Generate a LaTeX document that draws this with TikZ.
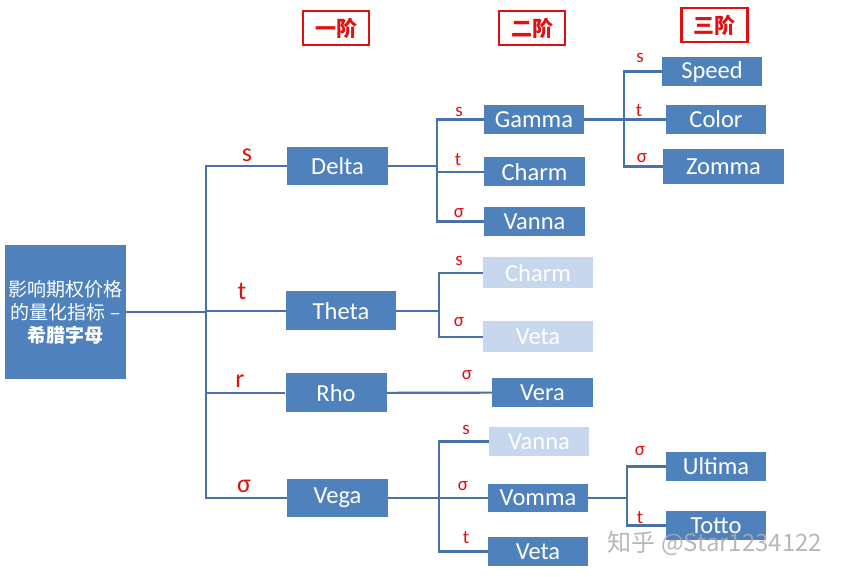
\documentclass[tikz,border=0pt]{standalone}
\usepackage{fontspec}
\setmainfont{Carlito}
\newfontfamily\cjk{Noto Sans CJK SC}
\definecolor{boxblue}{HTML}{4F81BD}
\definecolor{paleblue}{HTML}{C6D7EE}
\definecolor{linkblue}{HTML}{4A70A8}
\definecolor{ordred}{HTML}{E01010}

\begin{document}
\begin{tikzpicture}[x=1pt, y=-1pt,
  greek/.style={fill=boxblue, text=white, inner sep=0pt, font=\fontsize{24.5}{26}\selectfont},
  faded/.style={greek, fill=paleblue},
  order/.style={draw=ordred, line width=2.4pt, text=ordred, inner sep=0pt,
    minimum width=66, minimum height=34, font=\cjk\bfseries\fontsize{21}{23}\selectfont},
  var/.style={text=ordred, anchor=base, inner sep=0pt, font=\fontsize{26}{28}\selectfont},
  subvar/.style={text=ordred, anchor=base, inner sep=0pt, font=\fontsize{19}{21}\selectfont},
  link/.style={draw=linkblue, line width=2.2pt}]
\path[use as bounding box] (0,0) rectangle (852,577);
% order headers
\node[order] (ord1) at (336,28) {一阶};
\node[order] (ord2) at (532,28) {二阶};
\node[order] (ord3) at (714.5,25) {三阶};
% root
\node[greek, minimum width=121, minimum height=134, align=center, font=\cjk\fontsize{19}{23}\selectfont]
  (root) at (65.5,312) {影响期权价格\\的量化指标 –\\\bfseries 希腊字母};
% first order
\node[greek, minimum width=101, minimum height=38] (delta) at (337.5,166) {Delta};
\node[greek, minimum width=110, minimum height=39] (theta) at (341,311) {Theta};
\node[greek, minimum width=101, minimum height=39] (rho) at (336,393) {Rho};
\node[greek, minimum width=101, minimum height=38] (vega) at (337.5,498) {Vega};
\coordinate (j0) at (206,312);
\draw[link] (root) -- (j0);
\draw[link] (j0) |- (delta);
\draw[link] (j0) |- (theta);
\draw[link] (j0) |- (rho);
\draw[link] (j0) |- (vega);
\node[var] (ls) at (247,162) {s};
\node[var] (lt) at (242,300) {t};
\node[var] (lr) at (240,388) {r};
\node[var] (lsig) at (244,492) {σ};
% second order: Delta
\node[greek, minimum width=100, minimum height=29] (gamma) at (534,119.5) {Gamma};
\node[greek, minimum width=101, minimum height=29] (charm) at (534.5,172) {Charm};
\node[greek, minimum width=101, minimum height=29] (vanna) at (534.5,221.5) {Vanna};
\coordinate (j1) at (437,166);
\draw[link] (delta) -- (j1);
\draw[link] (j1) |- (gamma);
\draw[link] (j1) |- (charm);
\draw[link] (j1) |- (vanna);
\node[subvar] (l1s) at (459,117) {s};
\node[subvar] (l1t) at (458,166) {t};
\node[subvar] (l1sig) at (459,218) {σ};
% third order: Gamma
\node[greek, minimum width=100, minimum height=29] (speed) at (712,71.5) {Speed};
\node[greek, minimum width=100, minimum height=29] (color) at (716,119.5) {Color};
\node[greek, minimum width=121, minimum height=35] (zomma) at (723.5,166.5) {Zomma};
\coordinate (j2) at (624,119.5);
\draw[link] (gamma) -- (j2);
\draw[link] (j2) |- (speed);
\draw[link] (j2) |- (color);
\draw[link] (j2) |- (zomma);
\node[subvar] (l2s) at (640,63) {s};
\node[subvar] (l2t) at (639,117) {t};
\node[subvar] (l2sig) at (642,163) {σ};
% second order: Theta
\node[faded, minimum width=110, minimum height=31] (charm2) at (538,273) {Charm};
\node[faded, minimum width=110, minimum height=31] (veta2) at (538,337) {Veta};
\coordinate (j3) at (439,311);
\draw[link] (theta) -- (j3);
\draw[link] (j3) |- (charm2);
\draw[link] (j3) |- (veta2);
\node[subvar] (l3s) at (459,266) {s};
\node[subvar] (l3sig) at (459,327) {σ};
% second order: Rho
\node[greek, minimum width=101, minimum height=29] (vera) at (542.5,392.5) {Vera};
\draw[link] (rho) -- (vera);
\node[subvar] (l4sig) at (467,380) {σ};
% second order: Vega
\node[faded, minimum width=100, minimum height=29] (vanna2) at (539,441.5) {Vanna};
\node[greek, minimum width=100, minimum height=28] (vomma) at (538,498) {Vomma};
\node[greek, minimum width=100, minimum height=29] (veta3) at (538,551.5) {Veta};
\coordinate (j4) at (439,498);
\draw[link] (vega) -- (j4);
\draw[link] (j4) |- (vanna2);
\draw[link] (j4) |- (vomma);
\draw[link] (j4) |- (veta3);
\node[subvar] (l5s) at (466,435) {s};
\node[subvar] (l5sig) at (463,490) {σ};
\node[subvar] (l5t) at (466,543) {t};
% third order: Vomma
\node[greek, minimum width=100, minimum height=29] (ultima) at (716,466.5) {Ultima};
\node[greek, minimum width=100, minimum height=29] (totto) at (716,525.5) {Totto};
\coordinate (j5) at (627,498);
\draw[link] (vomma) -- (j5);
\draw[link] (j5) |- (ultima);
\draw[link] (j5) |- (totto);
\node[subvar] (l6sig) at (640,455) {σ};
\node[subvar] (l6t) at (640,523) {t};
% watermark
\node[text=gray!65, opacity=0.85, font=\cjk\fontsize{24}{26}\selectfont] (mark) at (715,543) {知乎 @Star1234122};
\end{tikzpicture}
\end{document}
